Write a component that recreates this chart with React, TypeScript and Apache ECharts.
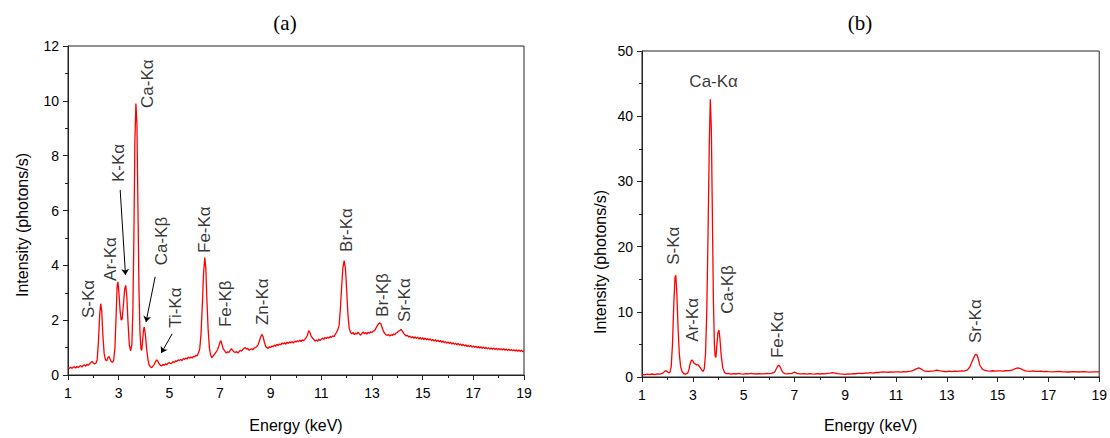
import React, { useEffect, useRef } from "react";
import * as echarts from "echarts";

// ---------- Data ----------
// Panel (a): [energy keV, intensity photons/s]
const spectrumA: [number, number][] = [
  [1.0, 0.27], [1.05, 0.23], [1.1, 0.29], [1.15, 0.24], [1.2, 0.28], [1.25, 0.3], [1.3, 0.25], [1.35, 0.31],
  [1.4, 0.27], [1.45, 0.32], [1.5, 0.34], [1.55, 0.29], [1.6, 0.35], [1.65, 0.37], [1.7, 0.32], [1.75, 0.39],
  [1.8, 0.35], [1.85, 0.41], [1.9, 0.45], [1.95, 0.5], [2.0, 0.44], [2.05, 0.4], [2.1, 0.43], [2.15, 0.55],
  [2.2, 1.2], [2.25, 2.2], [2.29, 2.6], [2.33, 2.35], [2.38, 1.4], [2.43, 0.75], [2.48, 0.55], [2.53, 0.52],
  [2.58, 0.64], [2.62, 0.68], [2.66, 0.58], [2.7, 0.5], [2.75, 0.46], [2.8, 0.52], [2.85, 0.95], [2.9, 2.2],
  [2.94, 3.25], [2.97, 3.4], [3.01, 3.0], [3.06, 2.3], [3.1, 2.0], [3.14, 2.05], [3.19, 2.6], [3.24, 3.15],
  [3.28, 3.27], [3.32, 2.9], [3.37, 1.9], [3.42, 1.1], [3.47, 0.88], [3.52, 1.1], [3.56, 2.3], [3.6, 5.0],
  [3.64, 8.5], [3.68, 9.9], [3.72, 9.2], [3.76, 6.2], [3.8, 3.2], [3.84, 1.6], [3.88, 0.95], [3.91, 0.9],
  [3.94, 1.2], [3.98, 1.65], [4.01, 1.75], [4.05, 1.5], [4.1, 1.0], [4.15, 0.6], [4.2, 0.38], [4.25, 0.3],
  [4.3, 0.27], [4.35, 0.32], [4.4, 0.38], [4.45, 0.48], [4.5, 0.55], [4.55, 0.5], [4.6, 0.4], [4.65, 0.35],
  [4.7, 0.33], [4.75, 0.39], [4.8, 0.35], [4.85, 0.41], [4.9, 0.37], [4.95, 0.43], [5.0, 0.45], [5.05, 0.41],
  [5.1, 0.44], [5.15, 0.49], [5.2, 0.46], [5.25, 0.52], [5.3, 0.5], [5.35, 0.55], [5.4, 0.53], [5.45, 0.57],
  [5.5, 0.52], [5.55, 0.6], [5.6, 0.57], [5.65, 0.62], [5.7, 0.58], [5.75, 0.65], [5.8, 0.61], [5.85, 0.66],
  [5.9, 0.62], [5.95, 0.68], [6.0, 0.66], [6.05, 0.72], [6.1, 0.7], [6.15, 0.8], [6.2, 0.95], [6.25, 1.5],
  [6.3, 2.5], [6.35, 3.7], [6.4, 4.28], [6.44, 3.9], [6.48, 2.8], [6.53, 1.7], [6.58, 1.0], [6.63, 0.72],
  [6.68, 0.63], [6.73, 0.7], [6.78, 0.75], [6.85, 0.84], [6.9, 0.92], [6.95, 1.05], [7.0, 1.2], [7.04, 1.25],
  [7.08, 1.1], [7.13, 0.95], [7.2, 0.86], [7.25, 0.8], [7.3, 0.85], [7.35, 0.82], [7.4, 0.9], [7.45, 0.96],
  [7.5, 0.9], [7.55, 0.85], [7.6, 0.82], [7.65, 0.86], [7.7, 0.8], [7.75, 0.85], [7.8, 0.9], [7.85, 0.87],
  [7.9, 0.93], [7.95, 0.98], [8.0, 1.0], [8.05, 0.94], [8.1, 0.97], [8.15, 0.9], [8.2, 0.93], [8.25, 0.96],
  [8.3, 0.92], [8.35, 0.98], [8.4, 1.0], [8.45, 1.04], [8.5, 1.1], [8.55, 1.22], [8.6, 1.38], [8.65, 1.48],
  [8.7, 1.4], [8.75, 1.2], [8.8, 1.05], [8.85, 1.0], [8.9, 0.97], [8.95, 1.03], [9.0, 1.0], [9.05, 1.06],
  [9.1, 1.03], [9.15, 1.09], [9.2, 1.05], [9.25, 1.12], [9.3, 1.08], [9.35, 1.13], [9.4, 1.1], [9.45, 1.17],
  [9.5, 1.13], [9.55, 1.18], [9.6, 1.12], [9.65, 1.2], [9.7, 1.15], [9.75, 1.21], [9.8, 1.17], [9.85, 1.22],
  [9.9, 1.16], [9.95, 1.24], [10.0, 1.2], [10.05, 1.25], [10.1, 1.21], [10.15, 1.27], [10.2, 1.22], [10.25, 1.28],
  [10.3, 1.25], [10.35, 1.3], [10.4, 1.36], [10.45, 1.45], [10.5, 1.62], [10.55, 1.55], [10.6, 1.42], [10.65, 1.35],
  [10.7, 1.3], [10.75, 1.24], [10.8, 1.28], [10.85, 1.23], [10.9, 1.31], [10.95, 1.26], [11.0, 1.3], [11.05, 1.35],
  [11.1, 1.3], [11.15, 1.37], [11.2, 1.33], [11.25, 1.38], [11.3, 1.34], [11.35, 1.41], [11.4, 1.37], [11.45, 1.43],
  [11.5, 1.4], [11.55, 1.48], [11.6, 1.55], [11.65, 1.65], [11.7, 1.8], [11.75, 2.4], [11.8, 3.2], [11.85, 3.9],
  [11.9, 4.17], [11.95, 3.9], [12.0, 3.1], [12.05, 2.2], [12.1, 1.7], [12.15, 1.56], [12.2, 1.5], [12.25, 1.55],
  [12.3, 1.47], [12.35, 1.53], [12.4, 1.49], [12.45, 1.56], [12.5, 1.5], [12.55, 1.45], [12.6, 1.52], [12.65, 1.57],
  [12.7, 1.5], [12.75, 1.55], [12.8, 1.49], [12.85, 1.56], [12.9, 1.52], [12.95, 1.58], [13.0, 1.55], [13.05, 1.6],
  [13.1, 1.62], [13.15, 1.7], [13.2, 1.78], [13.25, 1.86], [13.3, 1.9], [13.35, 1.87], [13.4, 1.72], [13.45, 1.6],
  [13.5, 1.52], [13.55, 1.47], [13.6, 1.44], [13.65, 1.48], [13.7, 1.42], [13.75, 1.47], [13.8, 1.44], [13.85, 1.5],
  [13.9, 1.47], [13.95, 1.53], [14.0, 1.55], [14.05, 1.6], [14.1, 1.62], [14.15, 1.66], [14.2, 1.6], [14.25, 1.52],
  [14.3, 1.47], [14.35, 1.42], [14.4, 1.45], [14.45, 1.38], [14.5, 1.42], [14.55, 1.36], [14.6, 1.4], [14.65, 1.34],
  [14.7, 1.39], [14.75, 1.33], [14.8, 1.38], [14.85, 1.31], [14.9, 1.37], [14.95, 1.3], [15.0, 1.36], [15.05, 1.29],
  [15.1, 1.35], [15.15, 1.28], [15.2, 1.33], [15.25, 1.27], [15.3, 1.32], [15.35, 1.25], [15.4, 1.3], [15.45, 1.24],
  [15.5, 1.29], [15.55, 1.22], [15.6, 1.27], [15.65, 1.21], [15.7, 1.26], [15.75, 1.19], [15.8, 1.24], [15.85, 1.18],
  [15.9, 1.22], [15.95, 1.16], [16.0, 1.21], [16.05, 1.15], [16.1, 1.2], [16.15, 1.13], [16.2, 1.18], [16.25, 1.12],
  [16.3, 1.16], [16.35, 1.1], [16.4, 1.15], [16.45, 1.09], [16.5, 1.13], [16.55, 1.07], [16.6, 1.12], [16.65, 1.06],
  [16.7, 1.1], [16.75, 1.04], [16.8, 1.09], [16.85, 1.03], [16.9, 1.08], [16.95, 1.02], [17.0, 1.06], [17.05, 1.01],
  [17.1, 1.05], [17.15, 0.99], [17.2, 1.04], [17.25, 0.98], [17.3, 1.03], [17.35, 0.97], [17.4, 1.02], [17.45, 0.96],
  [17.5, 1.01], [17.55, 0.95], [17.6, 1.0], [17.65, 0.94], [17.7, 0.99], [17.75, 0.94], [17.8, 0.98], [17.85, 0.93],
  [17.9, 0.98], [17.95, 0.92], [18.0, 0.97], [18.05, 0.92], [18.1, 0.96], [18.15, 0.91], [18.2, 0.96], [18.25, 0.9],
  [18.3, 0.95], [18.35, 0.89], [18.4, 0.94], [18.45, 0.89], [18.5, 0.93], [18.55, 0.88], [18.6, 0.92], [18.65, 0.87],
  [18.7, 0.92], [18.75, 0.86], [18.8, 0.91], [18.85, 0.86], [18.9, 0.9], [18.95, 0.85], [19.0, 0.88],
];

// Panel (b): [energy keV, intensity photons/s]
const spectrumB: [number, number][] = [
  [1.0, 0.4], [1.1, 0.33], [1.2, 0.44], [1.3, 0.36], [1.4, 0.46], [1.5, 0.38], [1.6, 0.49], [1.7, 0.43],
  [1.8, 0.56], [1.85, 0.7], [1.9, 0.9], [1.95, 0.95], [2.0, 0.8], [2.05, 0.65], [2.1, 0.7], [2.15, 1.6],
  [2.2, 5.0], [2.25, 11.0], [2.3, 15.3], [2.33, 15.6], [2.37, 13.0], [2.42, 7.5], [2.47, 3.5], [2.52, 1.6],
  [2.58, 0.8], [2.65, 0.5], [2.72, 0.45], [2.8, 0.6], [2.85, 1.2], [2.9, 2.1], [2.95, 2.6], [3.0, 2.5],
  [3.05, 2.1], [3.1, 2.0], [3.15, 1.85], [3.2, 1.9], [3.25, 1.65], [3.3, 1.4], [3.35, 1.1], [3.4, 0.85],
  [3.45, 1.2], [3.5, 3.5], [3.55, 10.0], [3.6, 22.0], [3.65, 36.0], [3.69, 42.6], [3.73, 38.0], [3.77, 25.0],
  [3.81, 12.0], [3.85, 5.0], [3.88, 3.2], [3.91, 3.0], [3.95, 5.0], [3.99, 6.8], [4.03, 7.2], [4.07, 5.8],
  [4.12, 3.2], [4.18, 1.4], [4.25, 0.7], [4.32, 0.5], [4.4, 0.57], [4.5, 0.44], [4.6, 0.53], [4.7, 0.46],
  [4.8, 0.56], [4.9, 0.49], [5.0, 0.45], [5.1, 0.53], [5.2, 0.47], [5.3, 0.56], [5.4, 0.49], [5.5, 0.46],
  [5.6, 0.53], [5.7, 0.49], [5.8, 0.47], [5.9, 0.56], [6.0, 0.51], [6.1, 0.57], [6.2, 0.7], [6.25, 0.95],
  [6.3, 1.35], [6.35, 1.7], [6.39, 1.8], [6.44, 1.55], [6.5, 1.0], [6.55, 0.7], [6.62, 0.52], [6.7, 0.47],
  [6.8, 0.51], [6.9, 0.55], [6.95, 0.65], [7.0, 0.75], [7.05, 0.68], [7.1, 0.55], [7.2, 0.49], [7.3, 0.47],
  [7.4, 0.53], [7.5, 0.45], [7.6, 0.51], [7.7, 0.47], [7.8, 0.44], [7.9, 0.51], [8.0, 0.46], [8.1, 0.53],
  [8.2, 0.49], [8.3, 0.56], [8.4, 0.58], [8.5, 0.66], [8.6, 0.6], [8.7, 0.52], [8.8, 0.47], [8.9, 0.44],
  [9.0, 0.41], [9.1, 0.49], [9.2, 0.44], [9.3, 0.51], [9.4, 0.5], [9.5, 0.56], [9.6, 0.57], [9.7, 0.54],
  [9.8, 0.61], [9.9, 0.6], [10.0, 0.66], [10.1, 0.61], [10.2, 0.69], [10.3, 0.69], [10.4, 0.76], [10.5, 0.8],
  [10.6, 0.75], [10.7, 0.73], [10.8, 0.79], [10.9, 0.74], [11.0, 0.79], [11.1, 0.8], [11.2, 0.75], [11.3, 0.83],
  [11.4, 0.79], [11.5, 0.86], [11.6, 0.9], [11.7, 1.05], [11.8, 1.25], [11.9, 1.4], [12.0, 1.2], [12.1, 0.95],
  [12.2, 0.87], [12.3, 0.85], [12.4, 0.91], [12.5, 0.95], [12.6, 1.05], [12.7, 0.97], [12.8, 0.9], [12.9, 0.84],
  [13.0, 0.82], [13.1, 0.89], [13.2, 0.84], [13.3, 0.91], [13.4, 0.85], [13.5, 0.89], [13.6, 0.92], [13.7, 0.95],
  [13.8, 1.05], [13.9, 1.5], [14.0, 2.4], [14.1, 3.3], [14.15, 3.5], [14.2, 3.3], [14.25, 2.6], [14.3, 1.8],
  [14.4, 1.2], [14.5, 1.0], [14.6, 0.94], [14.7, 0.91], [14.8, 0.96], [14.9, 0.89], [15.0, 0.93], [15.1, 0.95],
  [15.2, 0.89], [15.3, 0.96], [15.4, 0.98], [15.5, 1.0], [15.6, 1.1], [15.7, 1.3], [15.8, 1.4], [15.9, 1.3],
  [16.0, 1.1], [16.1, 0.95], [16.2, 0.9], [16.3, 0.87], [16.4, 0.93], [16.5, 0.87], [16.6, 0.85], [16.7, 0.89],
  [16.8, 0.83], [16.9, 0.87], [17.0, 0.81], [17.2, 0.8], [17.4, 0.85], [17.6, 0.79], [17.8, 0.77], [18.0, 0.83],
  [18.2, 0.77], [18.4, 0.81], [18.6, 0.75], [18.8, 0.8], [19.0, 0.78],
];

// Peak labels: [energy, intensity anchor (text start), text, rotated?]
const labelsA: [number, number, string, boolean][] = [
  [1.79, 2.08, "S-Kα", true],
  [2.66, 3.43, "Ar-Kα", true],
  [2.98, 7.04, "K-Kα", true],
  [4.12, 9.74, "Ca-Kα", true],
  [4.7, 4.0, "Ca-Kβ", true],
  [5.26, 1.72, "Ti-Kα", true],
  [6.38, 4.45, "Fe-Kα", true],
  [7.2, 1.75, "Fe-Kβ", true],
  [8.67, 1.82, "Zn-Kα", true],
  [11.99, 4.49, "Br-Kα", true],
  [13.41, 2.12, "Br-Kβ", true],
  [14.28, 1.93, "Sr-Kα", true],
];

const labelsB: [number, number, string, boolean][] = [
  [2.23, 17.2, "S-Kα", true],
  [2.99, 5.4, "Ar-Kα", true],
  [3.82, 45.3, "Ca-Kα", false],
  [4.38, 9.7, "Ca-Kβ", true],
  [6.32, 2.9, "Fe-Kα", true],
  [14.12, 5.2, "Sr-Kα", true],
];

// Arrows in panel (a): [fromE, fromI, toE, toI]
const arrowsA: [number, number, number, number][] = [
  [3.06, 6.75, 3.27, 3.65],
  [4.44, 3.58, 4.08, 1.93],
  [5.11, 1.5, 4.68, 0.8],
];

const energyTicks = { min: 1, max: 19, interval: 2 };
const intensityAxisA = { min: 0, max: 12, interval: 2 };
const intensityAxisB = { min: 0, max: 50, interval: 10 };

const FONT = "Liberation Sans, Arial, sans-serif";

function xAxisCfg(gridIndex: number, nameGap: number) {
  return {
    type: "value",
    gridIndex,
    min: energyTicks.min,
    max: energyTicks.max,
    interval: energyTicks.interval,
    name: "Energy (keV)",
    nameLocation: "middle",
    nameGap,
    nameTextStyle: { fontFamily: FONT, fontSize: 16, color: "#000" },
    axisLine: { show: true, onZero: false, lineStyle: { color: "#222", width: 1 } },
    axisTick: { show: true, inside: false, length: 5, lineStyle: { color: "#222" } },
    minorTick: { show: true, splitNumber: 2, length: 3, lineStyle: { color: "#222" } },
    axisLabel: { fontFamily: FONT, fontSize: 14, color: "#000", margin: 11, showMinLabel: true, showMaxLabel: true },
    splitLine: { show: false },
  };
}

function yAxisCfg(gridIndex: number, cfg: { min: number; max: number; interval: number }) {
  return {
    type: "value",
    gridIndex,
    min: cfg.min,
    max: cfg.max,
    interval: cfg.interval,
    axisLine: { show: true, lineStyle: { color: "#222", width: 1 } },
    axisTick: { show: true, inside: false, length: 5, lineStyle: { color: "#222" } },
    minorTick: { show: true, splitNumber: 2, length: 3, lineStyle: { color: "#222" } },
    axisLabel: { fontFamily: FONT, fontSize: 14, color: "#000", margin: 9 },
    splitLine: { show: false },
  };
}

function labelSeries(idx: number, labels: [number, number, string, boolean][]) {
  return {
    type: "scatter",
    xAxisIndex: idx,
    yAxisIndex: idx,
    symbolSize: 0,
    silent: true,
    z: 5,
    data: labels.map(([e, v, t, rot]) => ({
      value: [e, v],
      label: {
        show: true,
        formatter: t,
        position: [0, 0],
        rotate: rot ? 90 : 0,
        align: rot ? "left" : "center",
        verticalAlign: "middle",
        fontFamily: FONT,
        fontSize: 17,
        color: "#000",
      },
    })),
  };
}

export default function App() {
  const ref = useRef<HTMLDivElement>(null);
  useEffect(() => {
    if (!ref.current) return;
    const chart = echarts.init(ref.current, undefined, { renderer: "svg" });
    chart.setOption({
      animation: false,
      backgroundColor: "#fff",
      title: [
        { text: "(a)", left: 280, top: 7, textAlign: "center", textStyle: { fontFamily: "Liberation Serif, serif", fontSize: 21, fontWeight: "normal", color: "#000" } },
        { text: "(b)", left: 855, top: 7, textAlign: "center", textStyle: { fontFamily: "Liberation Serif, serif", fontSize: 21, fontWeight: "normal", color: "#000" } },
      ],
      grid: [
        { left: 68, top: 46, width: 456, height: 329, show: true, borderColor: "#222", borderWidth: 1, backgroundColor: "transparent" },
        { left: 642, top: 51, width: 461, height: 331, show: true, borderColor: "#222", borderWidth: 1, backgroundColor: "transparent" },
      ],
      xAxis: [xAxisCfg(0, 42), xAxisCfg(1, 40)],
      yAxis: [yAxisCfg(0, intensityAxisA), yAxisCfg(1, intensityAxisB)],
      graphic: [
        { type: "text", x: 22, y: 225, rotation: Math.PI / 2, style: { text: "Intensity (photons/s)", fontFamily: FONT, fontSize: 16, fill: "#000", textAlign: "center", textVerticalAlign: "middle" } },
        { type: "text", x: 600, y: 262, rotation: Math.PI / 2, style: { text: "Intensity (photons/s)", fontFamily: FONT, fontSize: 16, fill: "#000", textAlign: "center", textVerticalAlign: "middle" } },
      ],
      series: [
        {
          type: "line",
          xAxisIndex: 0,
          yAxisIndex: 0,
          data: spectrumA,
          showSymbol: false,
          symbol: "none",
          lineStyle: { color: "#ff0000", width: 1.3 },
          markLine: {
            silent: true,
            symbol: ["none", "arrow"],
            symbolSize: 6,
            label: { show: false },
            lineStyle: { color: "#000", width: 1, type: "solid" },
            data: arrowsA.map(([x1, y1, x2, y2]) => [{ coord: [x1, y1] }, { coord: [x2, y2] }]),
          },
        },
        {
          type: "line",
          xAxisIndex: 1,
          yAxisIndex: 1,
          data: spectrumB,
          showSymbol: false,
          symbol: "none",
          lineStyle: { color: "#ff0000", width: 1.3 },
        },
        labelSeries(0, labelsA),
        labelSeries(1, labelsB),
      ],
    });
    return () => chart.dispose();
  }, []);
  return <div ref={ref} style={{ position: "fixed", left: 0, top: 0, width: 1110, height: 438 }} />;
}
